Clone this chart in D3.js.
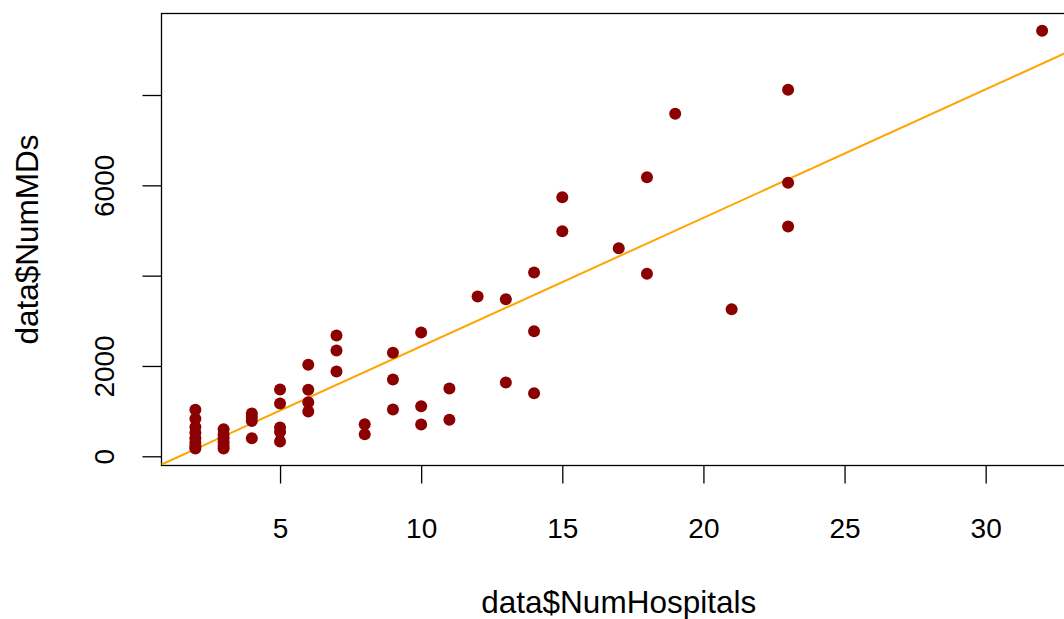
<!DOCTYPE html>
<html><head><meta charset="utf-8">
<script src="https://cdn.jsdelivr.net/npm/d3@7"></script>
<style>body{margin:0;background:#fff}svg{display:block}text{font-family:"Liberation Sans",Arial,sans-serif;fill:#000}</style>
</head><body>
<svg id="c" width="1064" height="619"></svg>
<script>
const numHospitals = [2,2,2,2,2,2,2,2, 3,3,3,3,3,3, 4,4,4,4, 5,5,5,5,5, 6,6,6,6, 7,7,7, 8,8, 9,9,9, 10,10,10, 11,11, 12, 13,13, 14,14,14, 15,15, 17, 18,18, 19, 21, 23,23,23, 32];
const numMDs = [1030,830,650,520,400,300,220,170, 600,480,400,310,230,170, 950,870,780,400, 1480,1170,640,540,330, 2026,1472,1198,992, 2675,2343,1878, 711,489, 2292,1700,1036, 2741,1109,704, 1501,808, 3539, 3479,1634, 4070,2770,1397, 5737,4985, 4608, 6180,4041, 7584, 3257, 8116,6056,5089, 9422];
const xTicks = [5,10,15,20,25,30];
const yTicks = [0,2000,4000,6000,8000];
const yTickLabels = ["0","2000","","6000",""];
const fitCoef = [-410, 284.5]; // intercept, slope

const svg = d3.select("#c");
const L = 161.5, T = 13.5, B = 465.5, R = 1076;
const x = d3.scaleLinear().domain([0.8, 33.2]).range([L, R]);
const y = d3.scaleLinear().domain([-204, 9805]).range([B, T]);
const fs = 28, fsT = 31.5;

svg.append("rect").attr("x", L).attr("y", T).attr("width", R - L).attr("height", B - T)
  .attr("fill", "none").attr("stroke", "#000").attr("stroke-width", 1.3);

svg.append("clipPath").attr("id", "clip").append("rect").attr("x", L).attr("y", T).attr("width", R - L).attr("height", B - T);

const xa = svg.append("g").attr("transform", `translate(0,${B})`)
  .call(d3.axisBottom(x).tickValues(xTicks).tickSize(18).tickFormat(d3.format("d")));
xa.select(".domain").remove();
xa.selectAll("line").attr("stroke", "#000").attr("stroke-width", 1.3);
xa.selectAll("text").attr("font-size", fs).attr("dy", null).attr("y", 0).attr("transform", "translate(0,72)");

const ya = svg.append("g").attr("transform", `translate(${L},0)`)
  .call(d3.axisLeft(y).tickValues(yTicks).tickSize(19).tickFormat((d, i) => yTickLabels[i]));
ya.select(".domain").remove();
ya.selectAll("line").attr("stroke", "#000").attr("stroke-width", 1.3);
ya.selectAll("text").attr("font-size", fs).attr("x", null).attr("dy", null)
  .attr("text-anchor", "middle").attr("transform", "translate(-48,0) rotate(-90)");

const g = svg.append("g").attr("clip-path", "url(#clip)");
const xd = x.domain();
g.append("line")
  .attr("x1", x(xd[0])).attr("y1", y(fitCoef[0] + fitCoef[1] * xd[0]))
  .attr("x2", x(xd[1])).attr("y2", y(fitCoef[0] + fitCoef[1] * xd[1]))
  .attr("stroke", "#FFA500").attr("stroke-width", 2);

g.selectAll("circle").data(numHospitals.map((h, i) => [h, numMDs[i]])).join("circle")
  .attr("cx", d => x(d[0])).attr("cy", d => y(d[1])).attr("r", 6).attr("fill", "#8B0000");

svg.append("text").attr("x", (L + R) / 2).attr("y", 613).attr("text-anchor", "middle")
  .attr("font-size", fsT).text("data$NumHospitals");
svg.append("text").attr("transform", `translate(38,${(T + B) / 2}) rotate(-90)`).attr("text-anchor", "middle")
  .attr("font-size", fsT).text("data$NumMDs");
</script>
</body></html>
